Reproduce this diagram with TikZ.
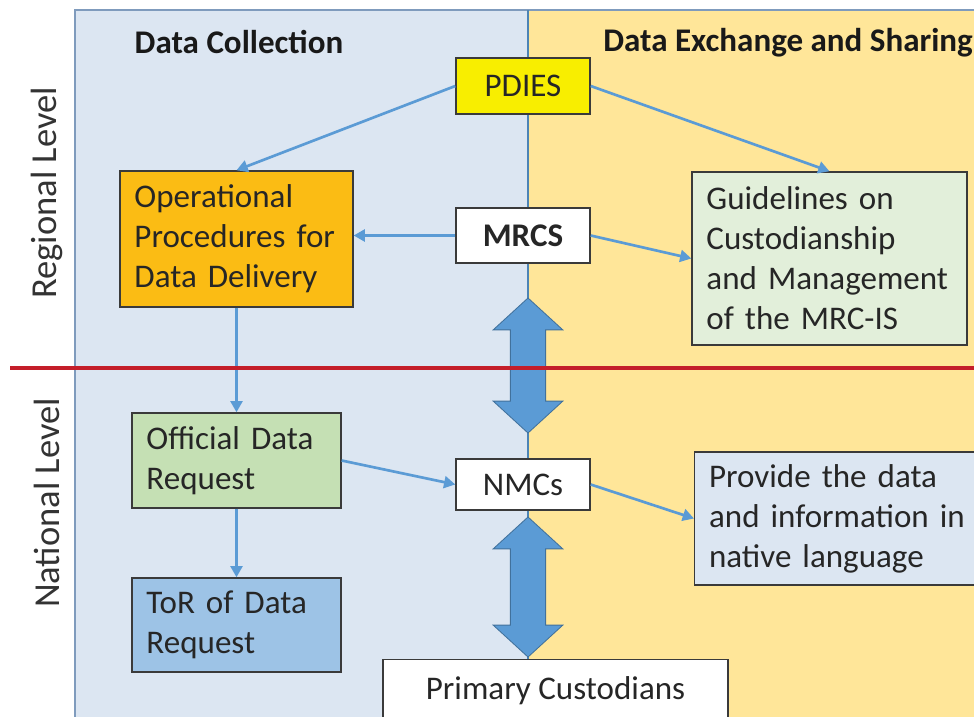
\documentclass[tikz,border=0pt]{standalone}
\usepackage{fontspec}
\setmainfont{Carlito}
\usepackage{tikz}
\usepackage{xcolor}
\usetikzlibrary{arrows.meta}
\usetikzlibrary{shapes.arrows}

\definecolor{panelblue}{HTML}{DCE6F2}
\definecolor{panelorange}{HTML}{FFE699}
\definecolor{panelline}{HTML}{7F9BBD}
\definecolor{linkblue}{HTML}{5B9BD5}
\definecolor{arrowedge}{HTML}{41719C}
\definecolor{boxgray}{HTML}{3A3A3A}
\definecolor{pdiesyellow}{HTML}{F8EE00}
\definecolor{operorange}{HTML}{FBBC14}
\definecolor{guidegreen}{HTML}{E2EFDA}
\definecolor{requestgreen}{HTML}{C5E0B4}
\definecolor{torblue}{HTML}{9DC3E6}
\definecolor{levelred}{HTML}{C41E2A}

\tikzset{
    box/.style={draw=boxgray, line width=1pt, inner xsep=0.36cm, inner ysep=0pt, align=left,
        text=black!85, font=\fontsize{23.5}{28.5}\selectfont},
    tag/.style={draw=boxgray, line width=1pt, fill=white, inner sep=0pt, align=center,
        minimum width=3.35cm, minimum height=1.4cm, text=black!85, font=\fontsize{23.5}{28.5}\selectfont},
    head/.style={inner sep=0pt, text=black!90, font=\fontsize{23.5}{27}\selectfont\bfseries},
    side/.style={inner sep=0pt, text=black!80, font=\fontsize{26}{30}\selectfont},
    link/.style={draw=linkblue, line width=1.9pt, -{Triangle[length=8pt,width=8.5pt]}},
    bigarrow/.style={double arrow, rotate=90, fill=linkblue, draw=arrowedge, line width=0.6pt,
        inner xsep=0pt, inner ysep=0.43cm, minimum width=0pt,
        double arrow head extend=0.43cm, double arrow tip angle=95}
}

\begin{document}
\begin{tikzpicture}[x=0.025cm, y=-0.025cm]
                    \clip (0,0) rectangle (974,717);
                    \fill[white] (0,0) rectangle (974,717);
                    \draw[panelline, line width=1pt, fill=panelblue] (75,10) rectangle (528,740);
                    \draw[panelline, line width=1pt, fill=panelorange] (528,10) rectangle (990,740);
                    \draw[linkblue!85!black, line width=1.4pt] (528,10) -- (528,740);

                    \node[head] (collect) at (239,42) {Data Collection};
                    \node[head, anchor=west] (exchange) at (603,43) {Data Exchange and Sharing};
                    \node[side, rotate=90] (regional) at (47,193) {Regional Level};
                    \node[side, rotate=90] (national) at (47,503) {National Level};

                    \node[bigarrow, minimum height=3.375cm] (uplink) at (528,365.5) {};
                    \node[bigarrow, minimum height=3.5cm] (downlink) at (528,587) {};

                    \node[tag, fill=pdiesyellow] (pdies) at (523,86) {PDIES};
                    \node[tag, minimum height=1.375cm] (mrcs) at (523,235.5) {\bfseries MRCS};
                    \node[box, fill=operorange, text width=5.1cm, minimum height=3.4cm] (oper) at (236.5,239)
                        {Operational\\Procedures for\\Data Delivery};
                    \node[box, fill=guidegreen, text width=6.15cm, minimum height=4.325cm] (guide) at (829.5,258.5)
                        {Guidelines on\\Custodianship\\and Management\\of the MRC-IS};
                    \node[box, fill=requestgreen, text width=4.5cm, minimum height=2.375cm] (request) at (236.5,460.5)
                        {Official Data\\Request};
                    \node[box, fill=torblue, text width=4.5cm, minimum height=2.35cm] (tor) at (236.5,625)
                        {ToR of Data\\Request};
                    \node[tag, minimum height=1.275cm] (nmcs) at (523,484.5) {NMCs};
                    \node[box, fill=panelblue, text width=6.55cm, minimum height=3.325cm, anchor=west] (provide) at (694,518.5)
                        {Provide the data\\and information in\\native language};
                    \node[tag, minimum width=8.625cm, minimum height=1.55cm, anchor=north] (primary) at (555.5,659)
                        {Primary Custodians};

                    \draw[link] (pdies.west) -- (oper.north);
                    \draw[link] (pdies.east) -- (guide.north);
                    \draw[link] (mrcs.west) -- (oper.east |- mrcs.west);
                    \draw[link] (mrcs.east) -- (guide.west);
                    \draw[link] (oper.south) -- (request.north);
                    \draw[link] (request.south) -- (tor.north);
                    \draw[link] (request.east) -- (nmcs.west);
                    \draw[link] (nmcs.east) -- (provide.west);

                    \draw[levelred, line width=2.4pt] (10,368) -- (974,368);
\end{tikzpicture}
\end{document}
